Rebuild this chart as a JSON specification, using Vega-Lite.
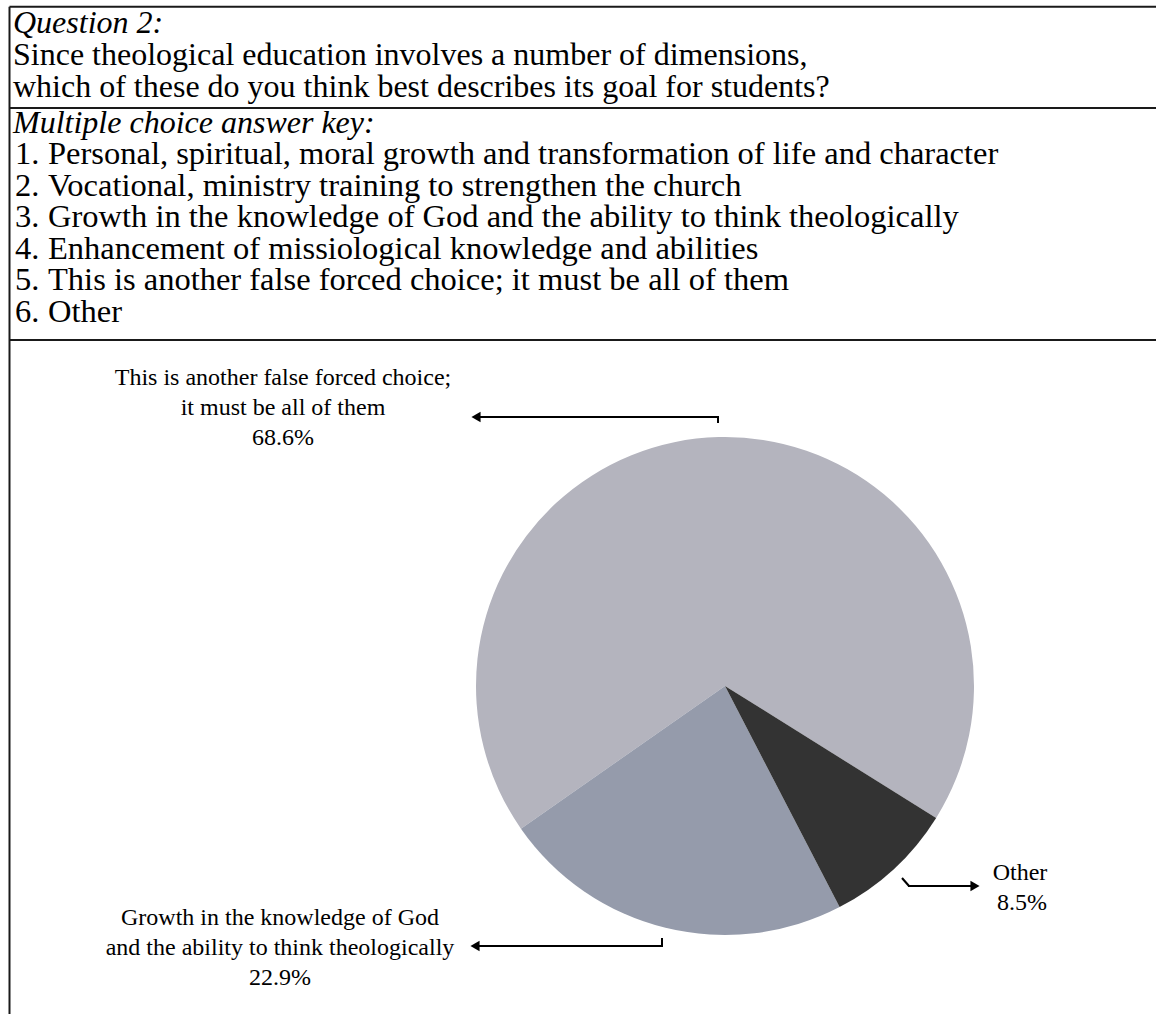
{
  "$schema": "https://vega.github.io/schema/vega-lite/v6.json",
  "width": 1156,
  "height": 1014,
  "padding": 0,
  "autosize": {"type": "none"},
  "background": "white",
  "config": {"view": {"stroke": null}, "text": {"font": "Liberation Serif", "color": "#000000"}},
  "datasets": {
    "answers": [
      {"num": "1.", "answer": "Personal, spiritual, moral growth and transformation of life and character"},
      {"num": "2.", "answer": "Vocational, ministry training to strengthen the church"},
      {"num": "3.", "answer": "Growth in the knowledge of God and the ability to think theologically"},
      {"num": "4.", "answer": "Enhancement of missiological knowledge and abilities"},
      {"num": "5.", "answer": "This is another false forced choice; it must be all of them"},
      {"num": "6.", "answer": "Other"}
    ],
    "pie": [
      {"answer": "This is another false forced choice; it must be all of them", "share": 0.686},
      {"answer": "Growth in the knowledge of God and the ability to think theologically", "share": 0.229},
      {"answer": "Other", "share": 0.085}
    ],
    "one": [{}]
  },
  "layer": [
    {
      "layer": [
        {
          "data": {"name": "one"},
          "mark": {"type": "rule", "stroke": "#1a1a1a", "strokeWidth": 2},
          "encoding": {
            "x": {"datum": 9.5, "type": "quantitative", "scale": {"domain": [0, 1156], "nice": false, "zero": false}, "axis": null},
            "x2": {"datum": 1156},
            "y": {"datum": 6.7, "type": "quantitative", "scale": {"domain": [1014, 0], "nice": false, "zero": false}, "axis": null}
          }
        },
        {
          "data": {"name": "one"},
          "mark": {"type": "rule", "stroke": "#1a1a1a", "strokeWidth": 2},
          "encoding": {
            "x": {"datum": 9.5, "type": "quantitative", "scale": {"domain": [0, 1156], "nice": false, "zero": false}, "axis": null},
            "x2": {"datum": 1156},
            "y": {"datum": 108, "type": "quantitative", "scale": {"domain": [1014, 0], "nice": false, "zero": false}, "axis": null}
          }
        },
        {
          "data": {"name": "one"},
          "mark": {"type": "rule", "stroke": "#1a1a1a", "strokeWidth": 2},
          "encoding": {
            "x": {"datum": 9.5, "type": "quantitative", "scale": {"domain": [0, 1156], "nice": false, "zero": false}, "axis": null},
            "x2": {"datum": 1156},
            "y": {"datum": 340, "type": "quantitative", "scale": {"domain": [1014, 0], "nice": false, "zero": false}, "axis": null}
          }
        },
        {
          "data": {"name": "one"},
          "mark": {"type": "rule", "stroke": "#1a1a1a", "strokeWidth": 2},
          "encoding": {
            "x": {"datum": 9.5, "type": "quantitative", "scale": {"domain": [0, 1156], "nice": false, "zero": false}, "axis": null},
            "y": {"datum": 6.7, "type": "quantitative", "scale": {"domain": [1014, 0], "nice": false, "zero": false}, "axis": null},
            "y2": {"datum": 1014}
          }
        },
        {
          "data": {"name": "one"},
          "mark": {"type": "text", "text": "Question 2:", "align": "left", "baseline": "alphabetic", "fontSize": 32, "fontStyle": "italic", "font": "Liberation Serif"},
          "encoding": {
            "x": {"datum": 13, "type": "quantitative", "scale": {"domain": [0, 1156], "nice": false, "zero": false}, "axis": null},
            "y": {"datum": 33, "type": "quantitative", "scale": {"domain": [1014, 0], "nice": false, "zero": false}, "axis": null}
          }
        },
        {
          "data": {"name": "one"},
          "mark": {"type": "text", "text": ["Since theological education involves a number of dimensions,", "which of these do you think best describes its goal for students?"], "align": "left", "baseline": "alphabetic", "fontSize": 32, "lineHeight": 32, "font": "Liberation Serif"},
          "encoding": {
            "x": {"datum": 13, "type": "quantitative", "scale": {"domain": [0, 1156], "nice": false, "zero": false}, "axis": null},
            "y": {"datum": 65, "type": "quantitative", "scale": {"domain": [1014, 0], "nice": false, "zero": false}, "axis": null}
          }
        },
        {
          "data": {"name": "one"},
          "mark": {"type": "text", "text": "Multiple choice answer key:", "align": "left", "baseline": "alphabetic", "fontSize": 32, "fontStyle": "italic", "font": "Liberation Serif"},
          "encoding": {
            "x": {"datum": 13, "type": "quantitative", "scale": {"domain": [0, 1156], "nice": false, "zero": false}, "axis": null},
            "y": {"datum": 132.5, "type": "quantitative", "scale": {"domain": [1014, 0], "nice": false, "zero": false}, "axis": null}
          }
        },
        {
          "data": {"name": "pie"},
          "mark": {"type": "arc", "outerRadius": 249, "stroke": null},
          "encoding": {
            "x": {"datum": 725, "type": "quantitative", "scale": {"domain": [0, 1156], "nice": false, "zero": false}, "axis": null},
            "y": {"datum": 686, "type": "quantitative", "scale": {"domain": [1014, 0], "nice": false, "zero": false}, "axis": null},
            "theta": {"field": "share", "type": "quantitative", "stack": true, "scale": {"range": [2.1293, 8.4125]}},
            "color": {
              "field": "answer", "type": "nominal", "legend": null,
              "scale": {
                "domain": ["This is another false forced choice; it must be all of them", "Growth in the knowledge of God and the ability to think theologically", "Other"],
                "range": ["#b4b4be", "#959bab", "#333333"]
              }
            },
            "order": {"field": "share", "type": "quantitative", "sort": "ascending"}
          }
        },
        {
          "data": {"name": "one"},
          "mark": {"type": "text", "text": ["This is another false forced choice;", "it must be all of them"], "align": "center", "baseline": "alphabetic", "fontSize": 24, "lineHeight": 30, "font": "Liberation Serif"},
          "encoding": {
            "x": {"datum": 283, "type": "quantitative", "scale": {"domain": [0, 1156], "nice": false, "zero": false}, "axis": null},
            "y": {"datum": 385, "type": "quantitative", "scale": {"domain": [1014, 0], "nice": false, "zero": false}, "axis": null}
          }
        },
        {
          "data": {"name": "pie"},
          "transform": [{"filter": "datum.answer === 'This is another false forced choice; it must be all of them'"}],
          "mark": {"type": "text", "align": "center", "baseline": "alphabetic", "fontSize": 24, "font": "Liberation Serif"},
          "encoding": {
            "x": {"datum": 283, "type": "quantitative", "scale": {"domain": [0, 1156], "nice": false, "zero": false}, "axis": null},
            "y": {"datum": 445, "type": "quantitative", "scale": {"domain": [1014, 0], "nice": false, "zero": false}, "axis": null},
            "text": {"field": "share", "type": "quantitative", "format": ".1%"}
          }
        },
        {
          "data": {"name": "one"},
          "mark": {"type": "text", "text": ["Growth in the knowledge of God", "and the ability to think theologically"], "align": "center", "baseline": "alphabetic", "fontSize": 24, "lineHeight": 30, "font": "Liberation Serif"},
          "encoding": {
            "x": {"datum": 280, "type": "quantitative", "scale": {"domain": [0, 1156], "nice": false, "zero": false}, "axis": null},
            "y": {"datum": 925, "type": "quantitative", "scale": {"domain": [1014, 0], "nice": false, "zero": false}, "axis": null}
          }
        },
        {
          "data": {"name": "pie"},
          "transform": [{"filter": "datum.answer === 'Growth in the knowledge of God and the ability to think theologically'"}],
          "mark": {"type": "text", "align": "center", "baseline": "alphabetic", "fontSize": 24, "font": "Liberation Serif"},
          "encoding": {
            "x": {"datum": 280, "type": "quantitative", "scale": {"domain": [0, 1156], "nice": false, "zero": false}, "axis": null},
            "y": {"datum": 985, "type": "quantitative", "scale": {"domain": [1014, 0], "nice": false, "zero": false}, "axis": null},
            "text": {"field": "share", "type": "quantitative", "format": ".1%"}
          }
        },
        {
          "data": {"name": "pie"},
          "transform": [{"filter": "datum.answer === 'Other'"}],
          "mark": {"type": "text", "align": "center", "baseline": "alphabetic", "fontSize": 24, "font": "Liberation Serif"},
          "encoding": {
            "x": {"datum": 1020, "type": "quantitative", "scale": {"domain": [0, 1156], "nice": false, "zero": false}, "axis": null},
            "y": {"datum": 880, "type": "quantitative", "scale": {"domain": [1014, 0], "nice": false, "zero": false}, "axis": null},
            "text": {"field": "answer", "type": "nominal"}
          }
        },
        {
          "data": {"name": "pie"},
          "transform": [{"filter": "datum.answer === 'Other'"}],
          "mark": {"type": "text", "align": "center", "baseline": "alphabetic", "fontSize": 24, "font": "Liberation Serif"},
          "encoding": {
            "x": {"datum": 1022, "type": "quantitative", "scale": {"domain": [0, 1156], "nice": false, "zero": false}, "axis": null},
            "y": {"datum": 910, "type": "quantitative", "scale": {"domain": [1014, 0], "nice": false, "zero": false}, "axis": null},
            "text": {"field": "share", "type": "quantitative", "format": ".1%"}
          }
        },
        {
          "data": {"name": "one"},
          "mark": {"type": "rule", "stroke": "#000000", "strokeWidth": 2},
          "encoding": {
            "x": {"datum": 718, "type": "quantitative", "scale": {"domain": [0, 1156], "nice": false, "zero": false}, "axis": null},
            "y": {"datum": 416, "type": "quantitative", "scale": {"domain": [1014, 0], "nice": false, "zero": false}, "axis": null},
            "y2": {"datum": 423}
          }
        },
        {
          "data": {"name": "one"},
          "mark": {"type": "rule", "stroke": "#000000", "strokeWidth": 2},
          "encoding": {
            "x": {"datum": 478, "type": "quantitative", "scale": {"domain": [0, 1156], "nice": false, "zero": false}, "axis": null},
            "x2": {"datum": 719},
            "y": {"datum": 417, "type": "quantitative", "scale": {"domain": [1014, 0], "nice": false, "zero": false}, "axis": null}
          }
        },
        {
          "data": {"name": "one"},
          "mark": {"type": "point", "shape": "triangle-left", "filled": true, "color": "#000000", "size": 110, "opacity": 1},
          "encoding": {
            "x": {"datum": 476, "type": "quantitative", "scale": {"domain": [0, 1156], "nice": false, "zero": false}, "axis": null},
            "y": {"datum": 417, "type": "quantitative", "scale": {"domain": [1014, 0], "nice": false, "zero": false}, "axis": null}
          }
        },
        {
          "data": {"name": "one"},
          "mark": {"type": "rule", "stroke": "#000000", "strokeWidth": 2},
          "encoding": {
            "x": {"datum": 662, "type": "quantitative", "scale": {"domain": [0, 1156], "nice": false, "zero": false}, "axis": null},
            "y": {"datum": 938, "type": "quantitative", "scale": {"domain": [1014, 0], "nice": false, "zero": false}, "axis": null},
            "y2": {"datum": 947}
          }
        },
        {
          "data": {"name": "one"},
          "mark": {"type": "rule", "stroke": "#000000", "strokeWidth": 2},
          "encoding": {
            "x": {"datum": 477, "type": "quantitative", "scale": {"domain": [0, 1156], "nice": false, "zero": false}, "axis": null},
            "x2": {"datum": 663},
            "y": {"datum": 946, "type": "quantitative", "scale": {"domain": [1014, 0], "nice": false, "zero": false}, "axis": null}
          }
        },
        {
          "data": {"name": "one"},
          "mark": {"type": "point", "shape": "triangle-left", "filled": true, "color": "#000000", "size": 110, "opacity": 1},
          "encoding": {
            "x": {"datum": 475, "type": "quantitative", "scale": {"domain": [0, 1156], "nice": false, "zero": false}, "axis": null},
            "y": {"datum": 946, "type": "quantitative", "scale": {"domain": [1014, 0], "nice": false, "zero": false}, "axis": null}
          }
        },
        {
          "data": {"name": "one"},
          "mark": {"type": "rule", "stroke": "#000000", "strokeWidth": 2},
          "encoding": {
            "x": {"datum": 902, "type": "quantitative", "scale": {"domain": [0, 1156], "nice": false, "zero": false}, "axis": null},
            "x2": {"datum": 909},
            "y": {"datum": 878, "type": "quantitative", "scale": {"domain": [1014, 0], "nice": false, "zero": false}, "axis": null},
            "y2": {"datum": 886}
          }
        },
        {
          "data": {"name": "one"},
          "mark": {"type": "rule", "stroke": "#000000", "strokeWidth": 2},
          "encoding": {
            "x": {"datum": 908, "type": "quantitative", "scale": {"domain": [0, 1156], "nice": false, "zero": false}, "axis": null},
            "x2": {"datum": 973},
            "y": {"datum": 886, "type": "quantitative", "scale": {"domain": [1014, 0], "nice": false, "zero": false}, "axis": null}
          }
        },
        {
          "data": {"name": "one"},
          "mark": {"type": "point", "shape": "triangle-right", "filled": true, "color": "#000000", "size": 110, "opacity": 1},
          "encoding": {
            "x": {"datum": 975, "type": "quantitative", "scale": {"domain": [0, 1156], "nice": false, "zero": false}, "axis": null},
            "y": {"datum": 886, "type": "quantitative", "scale": {"domain": [1014, 0], "nice": false, "zero": false}, "axis": null}
          }
        }
      ]
    },
    {
      "data": {"name": "answers"},
      "encoding": {
        "y": {"field": "num", "type": "ordinal", "scale": {"type": "point", "range": [164, 321.5], "padding": 0}, "axis": null}
      },
      "layer": [
        {
          "mark": {"type": "text", "align": "left", "baseline": "alphabetic", "fontSize": 32.5, "font": "Liberation Serif"},
          "encoding": {
            "x": {"datum": 15, "type": "quantitative", "scale": {"domain": [0, 1156], "nice": false, "zero": false}, "axis": null},
            "text": {"field": "num", "type": "nominal"}
          }
        },
        {
          "mark": {"type": "text", "align": "left", "baseline": "alphabetic", "fontSize": 32.5, "font": "Liberation Serif"},
          "encoding": {
            "x": {"datum": 48, "type": "quantitative", "scale": {"domain": [0, 1156], "nice": false, "zero": false}, "axis": null},
            "text": {"field": "answer", "type": "nominal"}
          }
        }
      ]
    }
  ],
  "resolve": {"scale": {"y": "independent"}}
}
